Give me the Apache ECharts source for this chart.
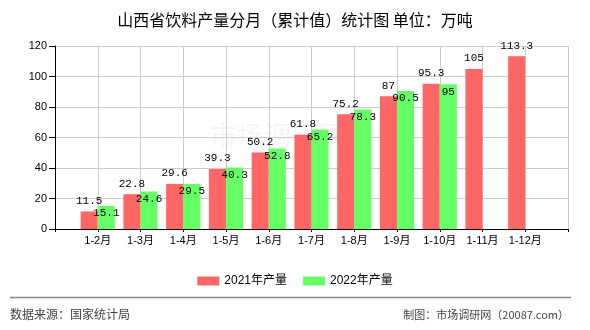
<!DOCTYPE html>
<html>
<head>
<meta charset="utf-8">
<script src="https://cdn.jsdelivr.net/npm/echarts@6/dist/echarts.min.js"></script>
<style>
  html, body { margin: 0; padding: 0; background: #fff; }
  #chart { width: 590px; height: 330px; }
</style>
</head>
<body>
<div id="chart"></div>
<script>
// Monthly cumulative beverage output, Shanxi (10k tonnes)
const months = ['1-2月', '1-3月', '1-4月', '1-5月', '1-6月', '1-7月', '1-8月', '1-9月', '1-10月', '1-11月', '1-12月'];
const output2021 = [11.5, 22.8, 29.6, 39.3, 50.2, 61.8, 75.2, 87, 95.3, 105, 113.3];
const output2022 = [15.1, 24.6, 29.5, 40.3, 52.8, 65.2, 78.3, 90.5, 95, null, null];
const seriesNames = ['2021年产量', '2022年产量'];
const yTicks = { min: 0, max: 120, interval: 20 };

// Empty slots at both ends so the months sit on the ticks
const axisCats = [''].concat(months, ['']);
const pad = arr => [null].concat(arr, [null]);

const chart = echarts.init(document.getElementById('chart'), null, { renderer: 'canvas' });

const labelFont = { fontFamily: 'Liberation Mono, DejaVu Sans Mono, monospace', fontSize: 11, color: '#000' };

chart.setOption({
  animation: false,
  backgroundColor: '#fff',
  title: {
    text: '山西省饮料产量分月（累计值）统计图 单位：万吨',
    left: 'center',
    top: 7,
    textStyle: { fontSize: 16, fontWeight: 'normal', color: '#000', fontFamily: 'Noto Sans CJK SC, sans-serif' }
  },
  legend: {
    data: seriesNames,
    top: 270,
    left: 'center',
    icon: 'rect',
    itemWidth: 22,
    itemHeight: 9,
    itemGap: 16,
    textStyle: { fontSize: 12, color: '#000', fontFamily: 'Liberation Sans, Noto Sans CJK SC, sans-serif' }
  },
  grid: { left: 55, right: 22, top: 46, bottom: 101, containLabel: false },
  xAxis: {
    type: 'category',
    data: axisCats,
    boundaryGap: false,
    axisLine: { lineStyle: { color: '#000', width: 1 } },
    axisTick: { show: true, length: 3, lineStyle: { color: '#000' } },
    axisLabel: { interval: 0, color: '#000', fontSize: 11, margin: 6, fontFamily: 'Liberation Sans, Noto Sans CJK SC, sans-serif' },
    splitLine: { show: true, lineStyle: { color: '#cccccc', width: 1 } }
  },
  yAxis: {
    type: 'value',
    min: yTicks.min,
    max: yTicks.max,
    interval: yTicks.interval,
    axisLine: { show: true, lineStyle: { color: '#000', width: 1 } },
    axisTick: { show: true, length: 6, lineStyle: { color: '#000' } },
    axisLabel: { color: '#000', fontSize: 11, margin: 8, fontFamily: 'Liberation Sans, sans-serif' },
    splitLine: { show: true, lineStyle: { color: '#cccccc', width: 1 } }
  },
  series: [
    {
      name: seriesNames[0],
      type: 'bar',
      data: pad(output2021),
      barGap: '0%',
      barCategoryGap: '20%',
      itemStyle: { color: '#ff6666' },
      label: Object.assign({ show: true, position: 'top', distance: 5 }, labelFont)
    },
    {
      name: seriesNames[1],
      type: 'bar',
      data: pad(output2022),
      barGap: '0%',
      barCategoryGap: '20%',
      itemStyle: { color: '#66ff66' },
      label: Object.assign({ show: true, position: 'insideTop', distance: 2 }, labelFont)
    }
  ],
  graphic: [
    {
      type: 'text',
      left: 210,
      top: 122,
      silent: true,
      z: 0,
      style: { text: '市场调研网', fontSize: 27, fill: 'rgba(0,0,0,0.04)', fontFamily: 'Noto Sans CJK SC, sans-serif' }
    },
    {
      type: 'line',
      shape: { x1: 10, y1: 297.5, x2: 571, y2: 297.5 },
      style: { stroke: '#888', lineWidth: 1.5 }
    },
    {
      type: 'text',
      left: 10,
      top: 308,
      style: { text: '数据来源：国家统计局', fontSize: 12, fill: '#444', fontFamily: 'Noto Sans CJK SC, sans-serif' }
    },
    {
      type: 'text',
      right: 21,
      top: 309,
      style: { text: '制图：市场调研网（20087.com）', fontSize: 11, fill: '#444', fontFamily: 'Noto Sans CJK SC, sans-serif' }
    }
  ]
});
</script>
</body>
</html>
